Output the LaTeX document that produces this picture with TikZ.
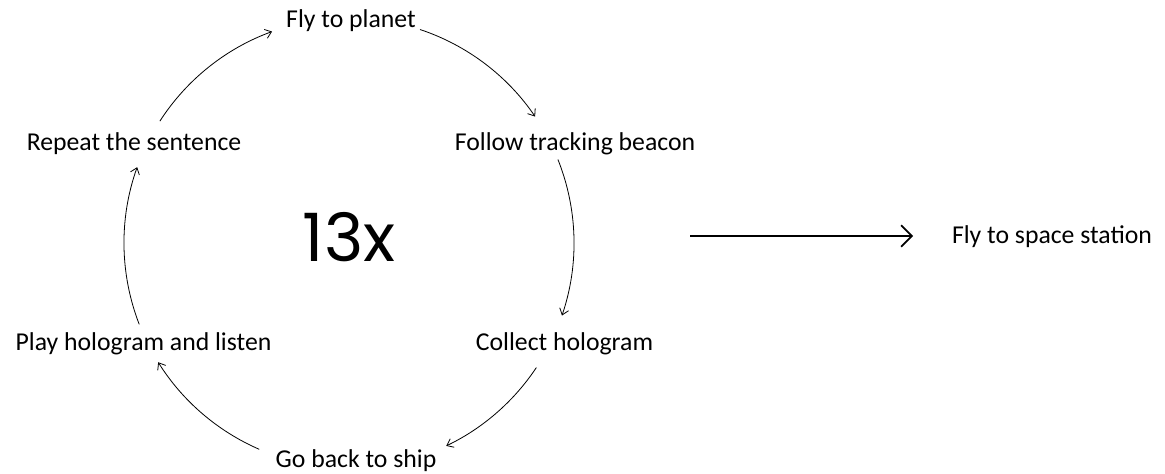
\documentclass[tikz,border=0pt]{standalone}
\usepackage{fontspec}
\setmainfont{Carlito}
\newfontfamily\numfont{Poppins}
\usetikzlibrary{arrows.meta,calc}
\begin{document}
\begin{tikzpicture}[x=0.75pt,y=-0.75pt,
  lbl/.style={anchor=base,inner sep=0pt,font=\fontsize{19.3pt}{22pt}\selectfont},
  cyc/.style={line width=0.6pt,-{Straight Barb[length=4.5pt,width=7pt]}},
  big/.style={line width=1.3pt,-{Straight Barb[length=8pt,width=16pt]}}]
\useasboundingbox (0,0) rectangle (1165,474);
\coordinate (c) at (349,243);
\def\R{168.75pt}
\node[lbl] (fly) at (351,28) {Fly to planet};
\node[lbl] (rep) at (134,151) {Repeat the sentence};
\node[lbl] (fol) at (575,151) {Follow tracking beacon};
\node[lbl] (play) at (143.5,350) {Play hologram and listen};
\node[lbl] (col) at (564.5,350) {Collect hologram};
\node[lbl] (go) at (356,467) {Go back to ship};
\node[lbl] (st) at (1052,244) {Fly to space station};
\node[anchor=base,inner sep=0pt,font=\numfont\fontsize{50pt}{55pt}\selectfont] (n) at (349,262) {13x};
% arc endpoints on the circle
\coordinate (a1) at ($(c)+(147.2:\R)$);
\coordinate (a2) at ($(c)+(71.6:\R)$);
\coordinate (a3) at ($(c)+(21.8:\R)$);
\coordinate (a4) at ($(c)+(-33.6:\R)$);
\coordinate (a5) at ($(c)+(-113.5:\R)$);
\coordinate (a6) at ($(c)+(-158.8:\R)$);
\draw[cyc] (a1) arc[start angle=147.2,end angle=110,radius=\R];
\draw[cyc] (a2) arc[start angle=71.6,end angle=34.2,radius=\R];
\draw[cyc] (a3) arc[start angle=21.8,end angle=-18.8,radius=\R];
\draw[cyc] (a4) arc[start angle=-33.6,end angle=-64.4,radius=\R];
\draw[cyc] (a5) arc[start angle=-113.5,end angle=-148,radius=\R];
\draw[cyc] (a6) arc[start angle=-158.8,end angle=-199.7,radius=\R];
\coordinate (s) at (690,236);
\coordinate (e) at (913,236);
\draw[big] (s) -- (e);
\end{tikzpicture}
\end{document}
